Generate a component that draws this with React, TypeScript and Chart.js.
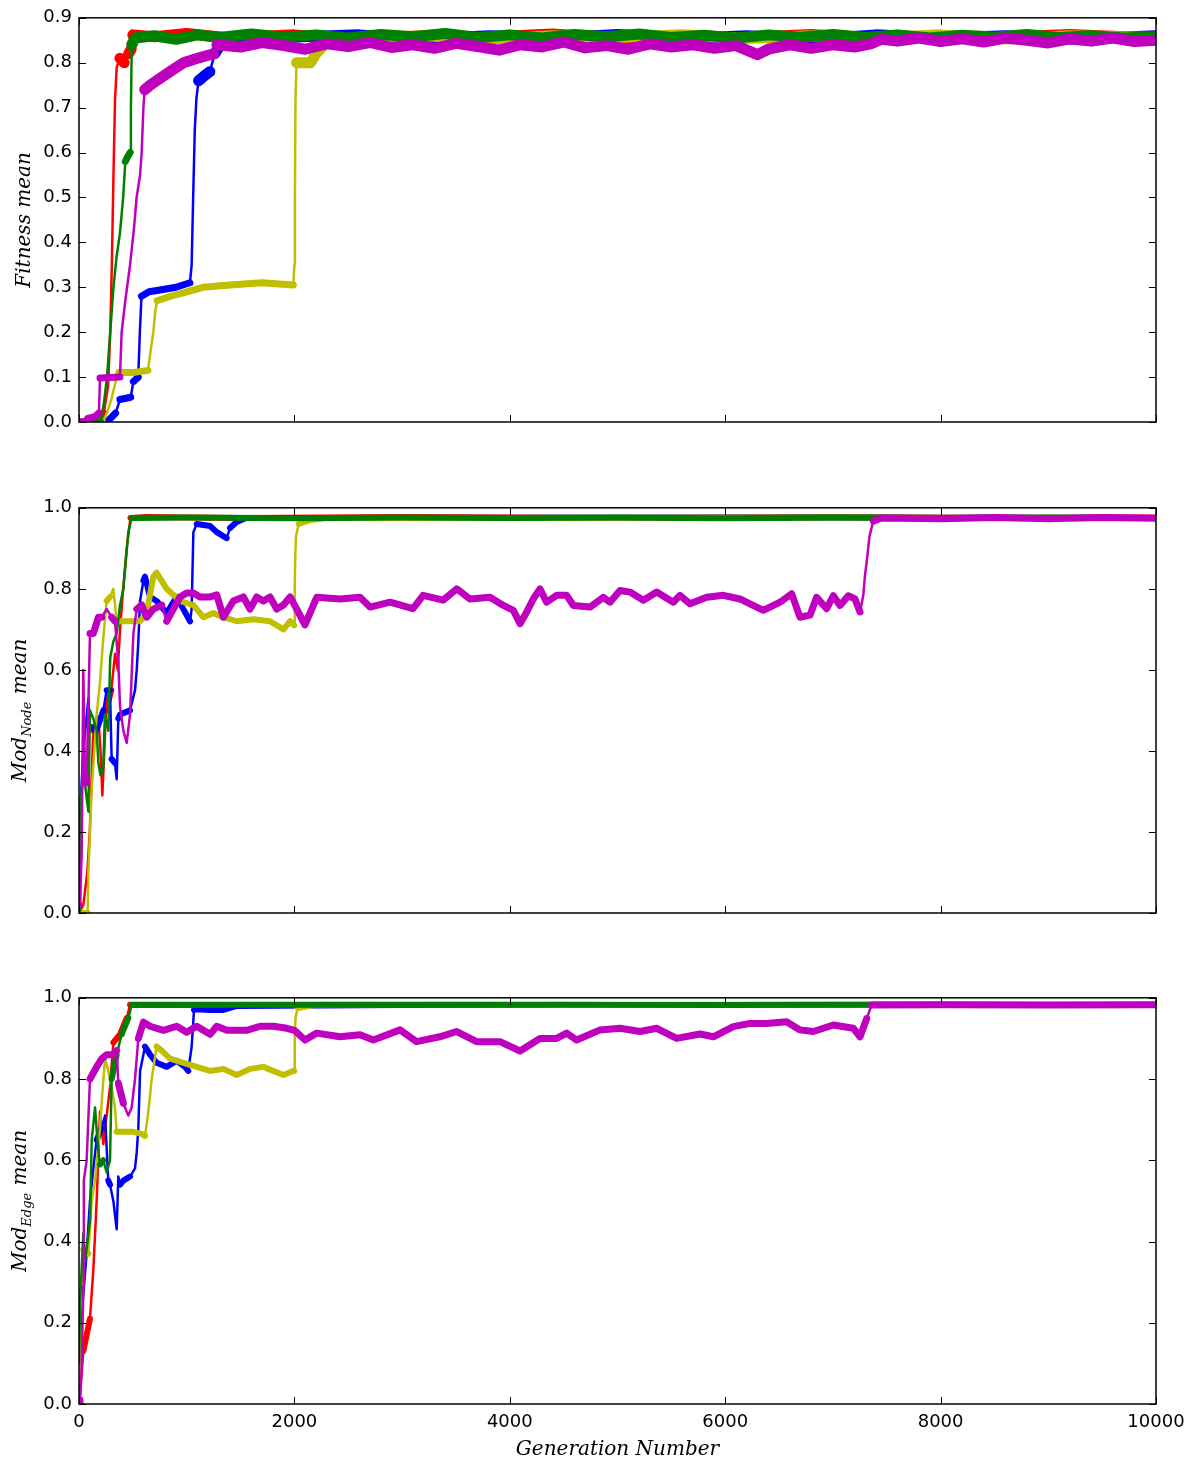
import { useEffect, useRef } from "react";
import { Chart, registerables } from "chart.js";

Chart.register(...registerables);

type Pt = [number, number];

// ---------- axis ticks ----------
const X_TICKS = [0, 2000, 4000, 6000, 8000, 10000];
const FITNESS_TICKS = [0, 0.1, 0.2, 0.3, 0.4, 0.5, 0.6, 0.7, 0.8, 0.9];
const MOD_TICKS = [0, 0.2, 0.4, 0.6, 0.8, 1.0];

// ---------- Fitness mean ----------
const fitnessRed: Pt[] = [
  [0, 0], [150, 0], [230, 0.02], [270, 0.08], [290, 0.2], [305, 0.35], [320, 0.55], [335, 0.72],
  [350, 0.79], [380, 0.81], [420, 0.8], [460, 0.82], [485, 0.83], [500, 0.862], [700, 0.858],
  [1000, 0.865], [1400, 0.855], [2000, 0.862], [2600, 0.852], [3200, 0.86], [3800, 0.857],
  [4400, 0.864], [5000, 0.853], [5600, 0.86], [6200, 0.856], [6800, 0.863], [7400, 0.852],
  [8000, 0.86], [8600, 0.857], [9200, 0.863], [10000, 0.855],
];
const fitnessGreen: Pt[] = [
  [0, 0], [200, 0], [230, 0.04], [260, 0.1], [290, 0.2], [320, 0.3], [350, 0.37], [380, 0.42],
  [410, 0.5], [430, 0.58], [450, 0.59], [475, 0.6], [482, 0.7], [490, 0.84], [520, 0.855],
  [700, 0.86], [900, 0.852], [1100, 0.862], [1300, 0.856], [1600, 0.864], [1900, 0.857],
  [2200, 0.862], [2500, 0.855], [2800, 0.863], [3100, 0.858], [3400, 0.865], [3700, 0.856],
  [4000, 0.862], [4300, 0.855], [4600, 0.863], [4900, 0.858], [5200, 0.864], [5500, 0.856],
  [5800, 0.861], [6100, 0.855], [6400, 0.862], [6700, 0.857], [7000, 0.863], [7300, 0.856],
  [7600, 0.862], [7900, 0.855], [8200, 0.861], [8500, 0.857], [8800, 0.863], [9100, 0.856],
  [9400, 0.86], [9700, 0.855], [10000, 0.858],
];
const fitnessBlue: Pt[] = [
  [0, 0], [260, 0], [300, 0.01], [340, 0.02], [380, 0.05], [480, 0.055], [505, 0.09], [550, 0.1],
  [565, 0.2], [580, 0.28], [650, 0.29], [780, 0.295], [900, 0.3], [1030, 0.31], [1046, 0.35],
  [1060, 0.5], [1075, 0.65], [1090, 0.72], [1110, 0.76], [1160, 0.77], [1215, 0.78], [1260, 0.82],
  [1300, 0.835], [1350, 0.845], [1400, 0.85], [2000, 0.857], [2600, 0.862], [3200, 0.852],
  [3800, 0.86], [4400, 0.855], [5000, 0.863], [5600, 0.854], [6200, 0.86], [6800, 0.852],
  [7400, 0.862], [8000, 0.855], [8600, 0.86], [9200, 0.853], [10000, 0.86],
];
const fitnessYellow: Pt[] = [
  [0, 0], [220, 0], [260, 0.02], [300, 0.05], [340, 0.09], [370, 0.11], [500, 0.11], [640, 0.115],
  [660, 0.15], [690, 0.2], [710, 0.25], [725, 0.27], [850, 0.28], [1000, 0.29], [1150, 0.3],
  [1400, 0.305], [1700, 0.31], [1990, 0.305], [2000, 0.35], [2005, 0.5], [2010, 0.72], [2020, 0.8],
  [2150, 0.8], [2200, 0.82], [2300, 0.845], [2600, 0.855], [3200, 0.86], [3800, 0.853],
  [4400, 0.86], [5000, 0.856], [5600, 0.862], [6200, 0.854], [6800, 0.86], [7400, 0.855],
  [8000, 0.862], [8600, 0.853], [9200, 0.86], [10000, 0.856],
];
const fitnessMagenta: Pt[] = [
  [0, 0], [60, 0], [80, 0.008], [150, 0.012], [185, 0.02], [195, 0.098], [380, 0.1], [396, 0.2],
  [430, 0.27], [474, 0.35], [510, 0.43], [535, 0.5], [567, 0.55], [582, 0.6], [598, 0.7],
  [610, 0.74], [660, 0.75], [720, 0.76], [845, 0.78], [970, 0.8], [1100, 0.81], [1250, 0.82],
  [1280, 0.84], [1500, 0.835], [1700, 0.845], [1900, 0.838], [2100, 0.83], [2300, 0.842],
  [2500, 0.836], [2700, 0.845], [2900, 0.834], [3100, 0.84], [3300, 0.832], [3500, 0.843],
  [3700, 0.836], [3900, 0.828], [4100, 0.84], [4300, 0.835], [4500, 0.846], [4700, 0.833],
  [4900, 0.838], [5100, 0.83], [5300, 0.842], [5500, 0.835], [5700, 0.84], [5900, 0.832],
  [6100, 0.838], [6300, 0.818], [6400, 0.83], [6600, 0.84], [6800, 0.832], [7000, 0.84],
  [7200, 0.835], [7350, 0.842], [7450, 0.852], [7600, 0.848], [7800, 0.855], [8000, 0.847],
  [8200, 0.853], [8400, 0.846], [8600, 0.855], [8800, 0.85], [9000, 0.844], [9200, 0.853],
  [9400, 0.848], [9600, 0.855], [9800, 0.847], [10000, 0.85],
];

// ---------- Mod_Node mean ----------
const nodeRed: Pt[] = [
  [0, 0], [40, 0.02], [77, 0.1], [100, 0.2], [133, 0.45], [180, 0.48], [200, 0.4], [217, 0.29],
  [235, 0.4], [251, 0.5], [300, 0.55], [335, 0.64], [360, 0.6], [381, 0.7], [410, 0.8],
  [443, 0.9], [478, 0.975], [600, 0.977], [1500, 0.975], [3000, 0.977], [5000, 0.975],
  [7000, 0.977], [8500, 0.975], [10000, 0.976],
];
const nodeGreen: Pt[] = [
  [0, 0], [9, 0.25], [40, 0.35], [87, 0.25], [102, 0.5], [133, 0.48], [164, 0.45], [180, 0.37],
  [200, 0.34], [226, 0.36], [240, 0.49], [257, 0.47], [272, 0.45], [290, 0.63], [319, 0.67],
  [350, 0.69], [381, 0.76], [412, 0.8], [458, 0.94], [489, 0.975], [1000, 0.976], [2000, 0.974],
  [3000, 0.976], [4000, 0.975], [5000, 0.976], [6000, 0.974], [7000, 0.976], [8000, 0.975],
  [9000, 0.976], [10000, 0.975],
];
const nodeBlue: Pt[] = [
  [0, 0.02], [9, 0.24], [40, 0.4], [87, 0.53], [102, 0.46], [160, 0.45], [226, 0.5], [257, 0.55],
  [288, 0.55], [303, 0.38], [334, 0.37], [350, 0.33], [365, 0.48], [381, 0.49], [474, 0.5],
  [520, 0.55], [536, 0.6], [551, 0.67], [567, 0.77], [598, 0.82], [613, 0.83], [660, 0.78],
  [721, 0.77], [814, 0.74], [907, 0.78], [969, 0.75], [1031, 0.72], [1046, 0.75], [1062, 0.94],
  [1093, 0.96], [1217, 0.955], [1279, 0.94], [1371, 0.925], [1402, 0.95], [1464, 0.965],
  [1550, 0.975], [3000, 0.975], [6000, 0.976], [10000, 0.975],
];
const nodeYellow: Pt[] = [
  [0, 0], [80, 0], [87, 0.1], [102, 0.2], [115, 0.29], [164, 0.49], [195, 0.57], [226, 0.68],
  [257, 0.77], [288, 0.78], [319, 0.8], [350, 0.72], [400, 0.72], [500, 0.72], [567, 0.72],
  [629, 0.74], [690, 0.83], [720, 0.84], [814, 0.8], [938, 0.77], [1062, 0.76], [1155, 0.73],
  [1248, 0.74], [1341, 0.73], [1464, 0.72], [1619, 0.725], [1774, 0.72], [1898, 0.7],
  [1960, 0.72], [1998, 0.71], [2003, 0.8], [2008, 0.88], [2015, 0.93], [2040, 0.96],
  [2150, 0.97], [2300, 0.975], [4000, 0.975], [7000, 0.976], [10000, 0.975],
];
const nodeMagenta: Pt[] = [
  [0, 0.02], [9, 0.02], [25, 0.15], [40, 0.6], [56, 0.32], [71, 0.33], [102, 0.69], [133, 0.69],
  [180, 0.73], [211, 0.73], [257, 0.75], [303, 0.73], [334, 0.72], [365, 0.62], [381, 0.51],
  [412, 0.45], [443, 0.42], [474, 0.49], [505, 0.69], [536, 0.75], [582, 0.76], [629, 0.73],
  [690, 0.75], [768, 0.76], [814, 0.72], [876, 0.75], [938, 0.78], [1000, 0.79], [1062, 0.79],
  [1124, 0.78], [1217, 0.78], [1279, 0.785], [1341, 0.73], [1433, 0.77], [1526, 0.78],
  [1588, 0.75], [1650, 0.78], [1712, 0.77], [1774, 0.78], [1836, 0.75], [1898, 0.76],
  [1960, 0.78], [2022, 0.75], [2098, 0.711], [2207, 0.779], [2423, 0.775], [2609, 0.779],
  [2702, 0.755], [2888, 0.767], [3101, 0.751], [3195, 0.784], [3380, 0.772], [3507, 0.8],
  [3630, 0.775], [3816, 0.779], [3940, 0.759], [4033, 0.747], [4095, 0.714], [4157, 0.743],
  [4218, 0.775], [4280, 0.8], [4342, 0.767], [4435, 0.784], [4528, 0.784], [4590, 0.759],
  [4745, 0.755], [4868, 0.779], [4930, 0.767], [5023, 0.796], [5116, 0.792], [5240, 0.772],
  [5364, 0.792], [5518, 0.767], [5580, 0.784], [5673, 0.763], [5828, 0.779], [5983, 0.784],
  [6137, 0.775], [6230, 0.763], [6354, 0.747], [6509, 0.767], [6617, 0.788], [6694, 0.73],
  [6787, 0.735], [6849, 0.779], [6942, 0.751], [7004, 0.783], [7066, 0.759], [7143, 0.783],
  [7205, 0.775], [7252, 0.743], [7282, 0.784], [7298, 0.833], [7313, 0.865], [7340, 0.93],
  [7375, 0.967], [7450, 0.975], [8000, 0.973], [8500, 0.976], [9000, 0.973], [9500, 0.976],
  [10000, 0.974],
];

// ---------- Mod_Edge mean ----------
const edgeRed: Pt[] = [
  [0, 0], [9, 0.02], [40, 0.13], [102, 0.21], [133, 0.33], [164, 0.5], [195, 0.72], [226, 0.64],
  [257, 0.71], [288, 0.78], [319, 0.89], [350, 0.9], [381, 0.91], [443, 0.95], [474, 0.983],
  [1500, 0.982], [3000, 0.983], [5000, 0.982], [7000, 0.983], [10000, 0.982],
];
const edgeGreen: Pt[] = [
  [0, 0.1], [10, 0.25], [40, 0.42], [56, 0.35], [102, 0.45], [118, 0.65], [149, 0.73],
  [180, 0.62], [195, 0.59], [226, 0.6], [257, 0.57], [288, 0.6], [303, 0.8], [350, 0.86],
  [396, 0.91], [458, 0.95], [489, 0.982], [1500, 0.983], [3000, 0.982], [4500, 0.983],
  [6000, 0.982], [7500, 0.983], [9000, 0.982], [10000, 0.983],
];
const edgeBlue: Pt[] = [
  [0, 0.05], [9, 0.17], [71, 0.37], [102, 0.5], [133, 0.58], [164, 0.65], [211, 0.68],
  [242, 0.71], [272, 0.55], [288, 0.54], [319, 0.5], [350, 0.43], [365, 0.56], [381, 0.54],
  [412, 0.55], [474, 0.56], [520, 0.58], [536, 0.62], [551, 0.68], [567, 0.82], [613, 0.88],
  [660, 0.86], [721, 0.84], [814, 0.83], [907, 0.845], [984, 0.83], [1015, 0.82], [1046, 0.88],
  [1068, 0.97], [1093, 0.972], [1217, 0.97], [1341, 0.97], [1402, 0.975], [1464, 0.98],
  [3000, 0.982], [6000, 0.982], [10000, 0.982],
];
const edgeYellow: Pt[] = [
  [0, 0.05], [9, 0.21], [40, 0.38], [87, 0.37], [118, 0.5], [149, 0.55], [195, 0.68],
  [226, 0.8], [242, 0.85], [272, 0.82], [303, 0.78], [334, 0.73], [350, 0.67], [400, 0.67],
  [500, 0.67], [582, 0.665], [613, 0.66], [644, 0.72], [675, 0.8], [721, 0.88], [768, 0.87],
  [845, 0.85], [969, 0.84], [1093, 0.83], [1217, 0.82], [1341, 0.825], [1464, 0.81],
  [1588, 0.825], [1712, 0.83], [1805, 0.82], [1898, 0.81], [1990, 0.82], [1998, 0.82],
  [2003, 0.9], [2010, 0.95], [2030, 0.975], [2200, 0.983], [5000, 0.982], [10000, 0.982],
];
const edgeMagenta: Pt[] = [
  [0, 0], [9, 0.01], [25, 0.09], [40, 0.29], [45, 0.55], [71, 0.6], [102, 0.8], [164, 0.83],
  [211, 0.85], [257, 0.86], [319, 0.86], [350, 0.87], [365, 0.79], [412, 0.74], [458, 0.71],
  [489, 0.73], [520, 0.8], [551, 0.9], [598, 0.94], [660, 0.93], [783, 0.92], [907, 0.93],
  [1000, 0.915], [1093, 0.93], [1217, 0.91], [1279, 0.93], [1372, 0.92], [1464, 0.92],
  [1557, 0.92], [1681, 0.93], [1805, 0.93], [1929, 0.925], [2000, 0.92], [2098, 0.896],
  [2207, 0.913], [2423, 0.904], [2609, 0.909], [2733, 0.896], [2981, 0.921], [3133, 0.892],
  [3350, 0.904], [3507, 0.917], [3692, 0.892], [3909, 0.892], [4095, 0.869], [4280, 0.9],
  [4435, 0.9], [4528, 0.913], [4621, 0.896], [4838, 0.921], [5023, 0.925], [5209, 0.917],
  [5364, 0.925], [5549, 0.9], [5766, 0.911], [5890, 0.904], [6075, 0.929], [6230, 0.937],
  [6385, 0.937], [6570, 0.941], [6694, 0.921], [6818, 0.917], [7004, 0.933], [7190, 0.925],
  [7252, 0.904], [7314, 0.949], [7360, 0.982], [8000, 0.983], [9000, 0.982], [10000, 0.983],
];

// ---------- styling ----------
const RED = "#ff0000";
const GREEN = "#008000";
const BLUE = "#0000ff";
const YELLOW = "#bfbf00";
const MAGENTA = "#bf00bf";

type SeriesDef = { data: Pt[]; color: string; order: number; width: number };

const framePlugin = {
  id: "frame",
  afterDraw(chart: any, _args: any, opts: any) {
    const { ctx, chartArea: a, scales } = chart;
    const xs = scales.x;
    const ys = scales.y;
    ctx.save();
    ctx.strokeStyle = "#000";
    ctx.lineWidth = 1;
    ctx.beginPath();
    X_TICKS.forEach((v) => {
      const px = Math.round(xs.getPixelForValue(v)) + 0.5;
      ctx.moveTo(px, a.bottom);
      ctx.lineTo(px, a.bottom - 7);
      ctx.moveTo(px, a.top);
      ctx.lineTo(px, a.top + 7);
    });
    (opts.yTicks as number[]).forEach((v) => {
      const py = Math.round(ys.getPixelForValue(v)) + 0.5;
      ctx.moveTo(a.left, py);
      ctx.lineTo(a.left + 7, py);
      ctx.moveTo(a.right, py);
      ctx.lineTo(a.right - 7, py);
    });
    ctx.stroke();
    ctx.lineWidth = 1.5;
    ctx.strokeRect(a.left, a.top, a.right - a.left, a.bottom - a.top);

    // y title (rotated, with optional subscript)
    const t = opts.yTitle;
    const mainFont = 'italic 20px "DejaVu Serif"';
    const subFont = 'italic 13px "DejaVu Serif"';
    ctx.fillStyle = "#000";
    ctx.textBaseline = "alphabetic";
    ctx.textAlign = "left";
    ctx.font = mainFont;
    const w1 = ctx.measureText(t.main).width;
    const w3 = ctx.measureText(t.rest).width;
    ctx.font = subFont;
    const w2 = t.sub ? ctx.measureText(t.sub).width + 1 : 0;
    const total = w1 + w2 + w3;
    ctx.translate(t.x, (a.top + a.bottom) / 2);
    ctx.rotate(-Math.PI / 2);
    let cx = -total / 2;
    ctx.font = mainFont;
    ctx.fillText(t.main, cx, 0);
    cx += w1;
    if (t.sub) {
      ctx.font = subFont;
      ctx.fillText(t.sub, cx, 5);
      cx += w2;
    }
    ctx.font = mainFont;
    ctx.fillText(t.rest, cx, 0);
    ctx.restore();

    if (opts.xTitle) {
      ctx.save();
      ctx.fillStyle = "#000";
      ctx.font = mainFont;
      ctx.textAlign = "center";
      ctx.textBaseline = "middle";
      ctx.fillText(opts.xTitle.text, (a.left + a.right) / 2, opts.xTitle.y);
      ctx.restore();
    }
  },
};

type PanelProps = {
  top: number;
  height: number;
  padTop: number;
  xAxisHeight: number;
  yMax: number;
  yTicks: number[];
  series: SeriesDef[];
  showXLabels: boolean;
  bandMin: number;
  bandWidth: number;
  yTitle: { main: string; sub: string; rest: string; x: number };
  xTitle?: { text: string; y: number };
};

function Panel(p: PanelProps) {
  const ref = useRef<HTMLCanvasElement | null>(null);
  useEffect(() => {
    if (!ref.current) return;
    const datasets = p.series.map((s) => {
      const pts = s.data.map(([x, y]) => ({ x, y }));
      return {
        data: pts,
        borderColor: s.color,
        backgroundColor: s.color,
        order: s.order,
        pointRadius: 0,
        borderWidth: s.width,
        borderJoinStyle: "round" as const,
        borderCapStyle: "round" as const,
        tension: 0,
        fill: false,
        segment: {
          borderWidth: (ctx: any) => {
            const dx = Math.abs(ctx.p1.x - ctx.p0.x);
            const dy = Math.abs(ctx.p1.y - ctx.p0.y);
            if ((dx < 5 && dy > 8) || (dy > 40 && dy > 2 * dx)) return 2.5;
            const y0 = pts[ctx.p0DataIndex].y;
            const y1 = pts[ctx.p1DataIndex].y;
            if (y0 >= p.bandMin && y1 >= p.bandMin) return p.bandWidth;
            return s.width;
          },
        },
      };
    });
    const chart = new Chart(ref.current, {
      type: "line",
      data: { datasets },
      plugins: [framePlugin],
      options: {
        animation: false,
        responsive: false,
        devicePixelRatio: 1,
        events: [],
        layout: { autoPadding: false, padding: { top: p.padTop, right: 38, left: 0, bottom: 0 } },
        plugins: {
          legend: { display: false },
          tooltip: { enabled: false },
          frame: { yTicks: p.yTicks, yTitle: p.yTitle, xTitle: p.xTitle },
        } as any,
        scales: {
          x: {
            type: "linear",
            min: 0,
            max: 10000,
            grid: { display: false, drawTicks: false },
            border: { display: false },
            afterBuildTicks: (s: any) => {
              s.ticks = X_TICKS.map((v) => ({ value: v }));
            },
            afterFit: (s: any) => {
              s.height = p.xAxisHeight;
            },
            ticks: {
              display: p.showXLabels,
              padding: 8,
              color: "#000",
              font: { family: '"DejaVu Sans"', size: 18 },
              maxRotation: 0,
              callback: (v: any) => String(v),
            },
          },
          y: {
            type: "linear",
            min: 0,
            max: p.yMax,
            grid: { display: false, drawTicks: false },
            border: { display: false },
            afterBuildTicks: (s: any) => {
              s.ticks = p.yTicks.map((v) => ({ value: v }));
            },
            afterFit: (s: any) => {
              s.width = 79;
            },
            ticks: {
              padding: 7,
              color: "#000",
              font: { family: '"DejaVu Sans"', size: 18 },
              callback: (v: any) => Number(v).toFixed(1),
            },
          },
        },
      },
    });
    return () => chart.destroy();
  }, []);
  return (
    <canvas
      ref={ref}
      width={1194}
      height={p.height}
      style={{ position: "absolute", left: 0, top: p.top, width: 1194, height: p.height }}
    />
  );
}

const fitnessSeries: SeriesDef[] = [
  { data: fitnessMagenta, color: MAGENTA, order: 0, width: 7 },
  { data: fitnessGreen, color: GREEN, order: 1, width: 7 },
  { data: fitnessYellow, color: YELLOW, order: 2, width: 7 },
  { data: fitnessBlue, color: BLUE, order: 3, width: 7 },
  { data: fitnessRed, color: RED, order: 4, width: 7 },
];
const nodeSeries: SeriesDef[] = [
  { data: nodeMagenta, color: MAGENTA, order: 0, width: 7 },
  { data: nodeGreen, color: GREEN, order: 1, width: 6 },
  { data: nodeYellow, color: YELLOW, order: 2, width: 6 },
  { data: nodeBlue, color: BLUE, order: 3, width: 6 },
  { data: nodeRed, color: RED, order: 4, width: 6 },
];
const edgeSeries: SeriesDef[] = [
  { data: edgeMagenta, color: MAGENTA, order: 0, width: 7 },
  { data: edgeGreen, color: GREEN, order: 1, width: 6 },
  { data: edgeYellow, color: YELLOW, order: 2, width: 6 },
  { data: edgeBlue, color: BLUE, order: 3, width: 6 },
  { data: edgeRed, color: RED, order: 4, width: 6 },
];

export default function App() {
  return (
    <div style={{ position: "absolute", left: 0, top: 0, width: 1194, height: 1465, background: "#fff" }}>
      <Panel
        top={0}
        height={445}
        padTop={14}
        xAxisHeight={23}
        yMax={0.9}
        yTicks={FITNESS_TICKS}
        series={fitnessSeries}
        showXLabels={false}
        bandMin={0.7}
        bandWidth={11}
        yTitle={{ main: "Fitness mean", sub: "", rest: "", x: 30 }}
      />
      <Panel
        top={490}
        height={445}
        padTop={15}
        xAxisHeight={22}
        yMax={1.0}
        yTicks={MOD_TICKS}
        series={nodeSeries}
        showXLabels={false}
        bandMin={2}
        bandWidth={6}
        yTitle={{ main: "Mod", sub: "Node", rest: " mean", x: 26 }}
      />
      <Panel
        top={980}
        height={485}
        padTop={16}
        xAxisHeight={61}
        yMax={1.0}
        yTicks={MOD_TICKS}
        series={edgeSeries}
        showXLabels={true}
        bandMin={2}
        bandWidth={6}
        yTitle={{ main: "Mod", sub: "Edge", rest: " mean", x: 26 }}
        xTitle={{ text: "Generation Number", y: 470 }}
      />
    </div>
  );
}
